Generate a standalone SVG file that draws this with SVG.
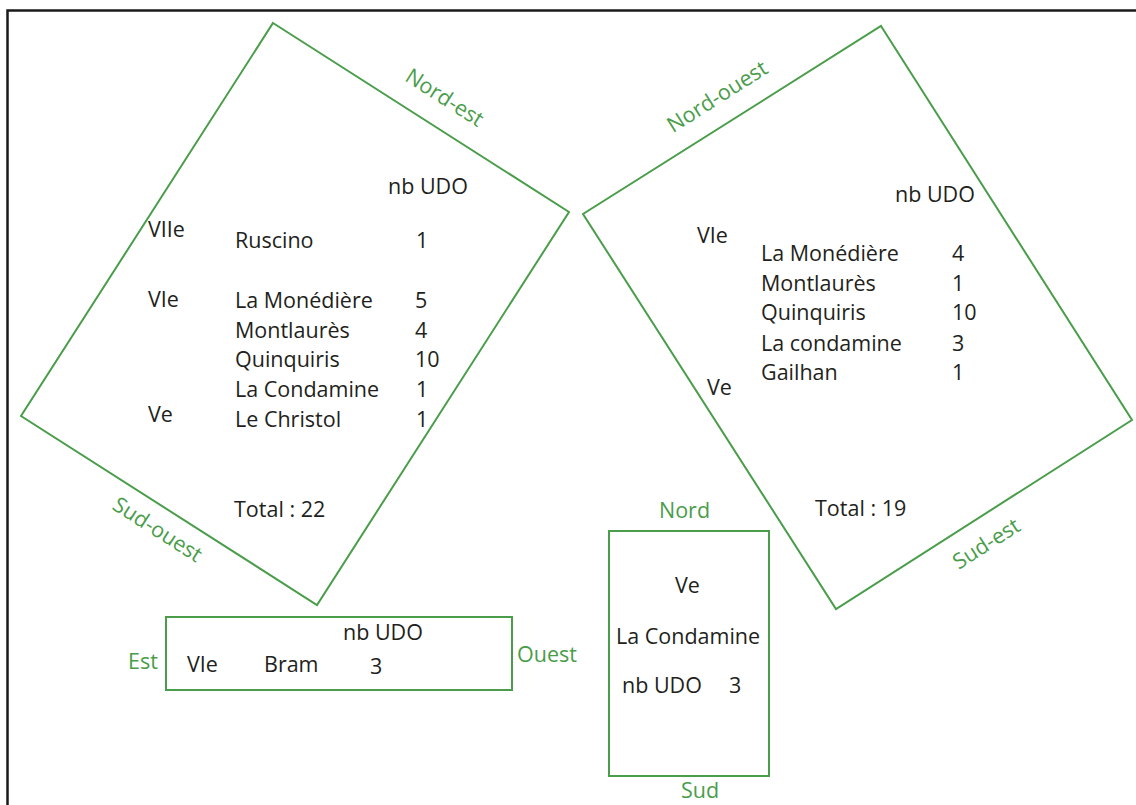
<svg xmlns="http://www.w3.org/2000/svg" width="1136" height="805" viewBox="0 0 1136 805">
<style>
.frame{fill:none;stroke:#1a1a1a;stroke-width:2.5}
.box{fill:none;stroke:#4a9d4a;stroke-width:2}
.t{font-family:"Open Sans","Noto Sans",sans-serif;font-size:21.5px;fill:#231f20}
.g{font-family:"Open Sans","Noto Sans",sans-serif;font-size:21.5px;fill:#4a9d4a}
.m{text-anchor:middle}
</style>
<rect width="1136" height="805" fill="#ffffff"/>
<path class="frame" d="M7.5,805 V10.5 H1136"/>

<g id="nord-est">
<polygon class="box" points="273,23 569,212 317,605 21,416"/>
<text class="g m" transform="translate(445,97) rotate(32.6)" y="8">Nord-est</text>
<text class="g m" transform="translate(158,529) rotate(32.6)" y="8">Sud-ouest</text>
<text class="t" x="388" y="194">nb UDO</text>
<text class="t" x="148" y="237">VIIe</text>
<text class="t" x="235" y="248">Ruscino</text>
<text class="t" x="416" y="248">1</text>
<text class="t" x="148" y="307">VIe</text>
<text class="t" x="235" y="308">La Monédière</text>
<text class="t" x="415" y="308">5</text>
<text class="t" x="235" y="338">Montlaurès</text>
<text class="t" x="415" y="338">4</text>
<text class="t" x="235" y="367">Quinquiris</text>
<text class="t" x="415" y="367">10</text>
<text class="t" x="235" y="397">La Condamine</text>
<text class="t" x="416" y="397">1</text>
<text class="t" x="148" y="422">Ve</text>
<text class="t" x="235" y="427">Le Christol</text>
<text class="t" x="416" y="427">1</text>
<text class="t" x="234" y="517">Total : 22</text>
</g>

<g id="nord-ouest">
<polygon class="box" points="881,26 1132,420 836,609 583,214"/>
<text class="g m" transform="translate(717,96) rotate(-32.4)" y="8">Nord-ouest</text>
<text class="g m" transform="translate(986,543) rotate(-32.6)" y="8">Sud-est</text>
<text class="t" x="895" y="202">nb UDO</text>
<text class="t" x="697" y="243">VIe</text>
<text class="t" x="761" y="261">La Monédière</text>
<text class="t" x="952" y="261">4</text>
<text class="t" x="761" y="291">Montlaurès</text>
<text class="t" x="952" y="291">1</text>
<text class="t" x="761" y="320">Quinquiris</text>
<text class="t" x="952" y="320">10</text>
<text class="t" x="761" y="351">La condamine</text>
<text class="t" x="952" y="351">3</text>
<text class="t" x="707" y="395">Ve</text>
<text class="t" x="761" y="380">Gailhan</text>
<text class="t" x="952" y="380">1</text>
<text class="t" x="815" y="516">Total : 19</text>
</g>

<g id="est-ouest">
<rect class="box" x="166" y="617" width="346" height="73"/>
<text class="g" x="128" y="669">Est</text>
<text class="g" x="517" y="662">Ouest</text>
<text class="t" x="343" y="640">nb UDO</text>
<text class="t" x="187" y="672">VIe</text>
<text class="t" x="264" y="672">Bram</text>
<text class="t" x="370" y="674">3</text>
</g>

<g id="nord-sud">
<rect class="box" x="609" y="531" width="160" height="245"/>
<text class="g" x="659" y="518">Nord</text>
<text class="g" x="681" y="798">Sud</text>
<text class="t" x="675" y="593">Ve</text>
<text class="t" x="616" y="644">La Condamine</text>
<text class="t" x="622" y="693">nb UDO</text>
<text class="t" x="729" y="693">3</text>
</g>
</svg>
